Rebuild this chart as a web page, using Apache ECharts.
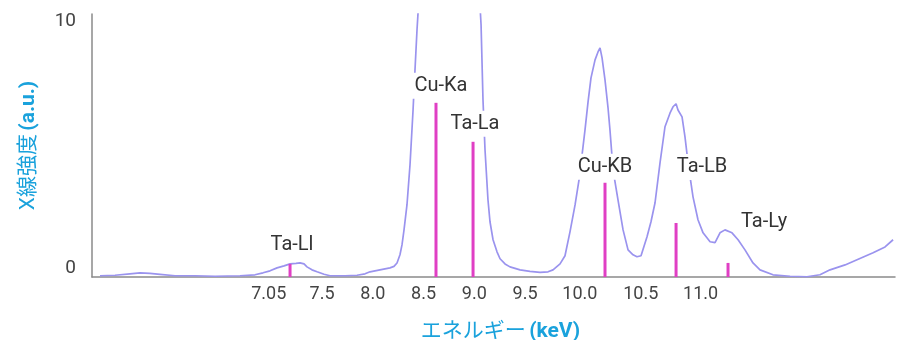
<!DOCTYPE html>
<html>
<head>
<meta charset="utf-8">
<script src="https://cdn.jsdelivr.net/npm/echarts@6/dist/echarts.min.js"></script>
<style>html,body{margin:0;padding:0;background:#fff}#c{width:900px;height:340px}</style>
</head>
<body>
<div id="c"></div>
<script>
// Spectrum (energy on the chart's own scale, intensity in a.u.)
const energy = [5.313,5.461,5.608,5.707,5.805,5.904,6.052,6.249,6.446,6.692,6.840,6.919,6.988,7.057,7.126,7.185,7.244,7.283,7.323,7.352,7.401,7.451,7.520,7.579,7.727,7.845,7.924,7.973,8.071,8.170,8.209,8.239,8.268,8.288,8.308,8.337,8.367,8.397,8.416,8.436,8.466,8.564,8.761,8.958,9.037,9.067,9.086,9.106,9.135,9.155,9.185,9.224,9.254,9.303,9.352,9.451,9.549,9.648,9.727,9.776,9.845,9.894,9.943,9.993,10.032,10.062,10.091,10.121,10.150,10.190,10.219,10.239,10.259,10.288,10.318,10.337,10.367,10.416,10.466,10.515,10.564,10.603,10.643,10.702,10.741,10.781,10.830,10.879,10.929,10.958,10.988,11.007,11.047,11.076,11.106,11.155,11.204,11.254,11.323,11.372,11.421,11.470,11.539,11.599,11.667,11.746,11.815,11.943,12.111,12.278,12.406,12.505,12.653,12.771,12.929,13.047,13.126];
const intensity = [-0.31,-0.29,-0.23,-0.19,-0.21,-0.25,-0.31,-0.31,-0.33,-0.31,-0.27,-0.19,-0.11,0.01,0.09,0.17,0.19,0.21,0.17,0.05,-0.07,-0.15,-0.25,-0.31,-0.31,-0.29,-0.23,-0.15,-0.07,0.01,0.07,0.21,0.54,0.94,1.55,2.56,4.19,6.41,8.03,9.66,11.7,19,27,19,12.1,9.86,6.82,4.79,2.77,1.88,1.15,0.66,0.38,0.17,0.05,-0.07,-0.13,-0.17,-0.15,-0.07,0.17,0.50,1.47,2.56,3.58,4.59,5.60,6.74,7.71,8.44,8.76,8.93,8.52,7.63,6.49,5.60,3.98,2.77,1.55,0.74,0.54,0.46,0.50,1.27,1.88,2.65,4.27,5.73,6.29,6.54,6.66,6.41,6.13,5.32,4.27,2.89,1.96,1.43,1.07,1.03,1.43,1.55,1.43,1.15,0.74,0.21,-0.07,-0.27,-0.33,-0.35,-0.27,-0.07,0.13,0.34,0.62,0.86,1.15];

// Characteristic lines
const lineNames = ['Ta-Ll','Cu-Ka','Ta-La','Cu-KB','Ta-LB','Ta-Ly'];
const lineEnergy = [7.185, 8.623, 8.988, 10.288, 10.988, 11.500];
const lineHeight = [0.17, 6.70, 5.12, 3.46, 1.83, 0.21];

// Axis ticks
const xTickPos = [6.975, 7.5, 8.0, 8.5, 9.0, 9.5, 10.04, 10.64, 11.23];
const xTickLabels = ['7.05','7.5','8.0','8.5','9.0','9.5','10.0','10.5','11.0'];
const yTickPos = [0, 10];
const yTickLabels = ['0','10'];

// label offsets (px) relative to each line's top
const labelOffset = [[2,-19],[5,-17],[2,-18],[0,-16],[26,-56],[36,-41]];

const chart = echarts.init(document.getElementById('c'), null, {renderer:'canvas'});
const FONT = 'Roboto, "Noto Sans CJK JP", sans-serif';
const titleColor = '#1aa2dc';

function nearestLabel(v, pos, labels){
  let bi = 0, bd = Infinity;
  pos.forEach((p,i)=>{const d=Math.abs(p-v); if(d<bd){bd=d;bi=i;}});
  return bd < 1e-3 ? labels[bi] : '';
}

const spectrum = energy.map((e,i)=>[e, intensity[i]]);
const sticks = lineEnergy.map((e,i)=>[e, lineHeight[i], i]);

const titleRich = {
  n: {fontFamily: FONT, fontSize: 21, color: titleColor, fontWeight: 'normal'},
  b: {fontFamily: FONT, fontSize: 21, color: titleColor, fontWeight: 'bold'}
};

chart.setOption({
  animation: false,
  grid: {left: 92, right: 5, top: 14, bottom: 63, containLabel: false, outerBoundsMode: 'none'},
  xAxis: {
    type: 'value', min: 5.234, max: 13.145,
    name: '{n|エネルギー} {b|(keV)}',
    nameLocation: 'middle', nameGap: 44,
    nameTextStyle: {rich: titleRich, padding: [0, 0, 0, 14]},
    axisLine: {show: true, onZero: false, lineStyle: {color: '#8a8a8a', width: 1.5}},
    axisTick: {show: false},
    splitLine: {show: false},
    axisLabel: {
      customValues: xTickPos,
      formatter: v => nearestLabel(v, xTickPos, xTickLabels),
      fontFamily: FONT, fontSize: 18, color: '#444', margin: 9
    }
  },
  yAxis: {
    type: 'value', min: -0.36, max: 10.3,
    name: '{n|X線強度} {b|(a.u.)}',
    nameLocation: 'middle', nameGap: 53, nameRotate: 90,
    nameTextStyle: {rich: titleRich},
    axisLine: {show: true, onZero: false, lineStyle: {color: '#8a8a8a', width: 1.5}},
    axisTick: {show: false},
    splitLine: {show: false},
    axisLabel: {
      customValues: yTickPos,
      formatter: v => nearestLabel(v, yTickPos, yTickLabels),
      fontFamily: FONT, fontSize: 19, color: '#444', margin: 16
    }
  },
  series: [
    {
      type: 'line', data: spectrum, showSymbol: false, smooth: false,
      lineStyle: {color: '#9a93ee', width: 1.7},
      clip: true, z: 2
    },
    {
      type: 'custom', data: sticks, z: 3, clip: false,
      renderItem: function(params, api){
        const e = api.value(0), h = api.value(1), idx = api.value(2);
        const top = api.coord([e, h]);
        const bottomY = params.coordSys.y + params.coordSys.height;
        const off = labelOffset[idx];
        return {
          type: 'group',
          children: [
            {type: 'line', shape: {x1: top[0], y1: top[1], x2: top[0], y2: bottomY},
             style: {stroke: '#e03fc4', lineWidth: 3}},
            {type: 'text', z2: 10,
             style: {x: top[0] + off[0], y: top[1] + off[1], text: lineNames[idx],
                     align: 'center', verticalAlign: 'middle',
                     font: '20px ' + FONT, fill: '#333',
                     backgroundColor: '#fff', padding: [3, 3]}}
          ]
        };
      }
    }
  ]
});
</script>
</body>
</html>
